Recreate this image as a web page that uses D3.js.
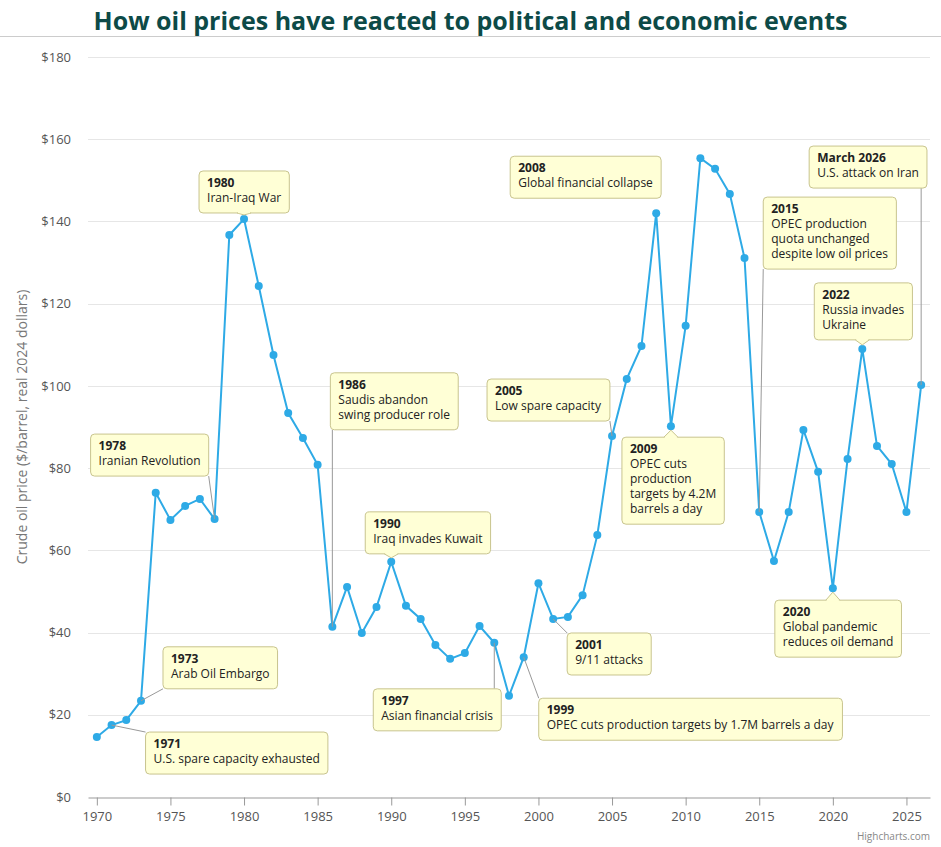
<!DOCTYPE html>
<html><head><meta charset="utf-8">
<script src="https://cdn.jsdelivr.net/npm/d3@7"></script>
<style>
body{margin:0;background:#fff;font-family:"Open Sans","Noto Sans",sans-serif;}
</style></head>
<body><div id="chart"></div>
<script>
const years = d3.range(1970, 2027);
const prices = [14.6, 17.5, 18.7, 23.4, 74, 67.4, 70.8, 72.5, 67.6, 136.7,
    140.6, 124.3, 107.5, 93.4, 87.3, 80.8, 41.4, 51.1, 39.9, 46.2,
    57.2, 46.5, 43.3, 37, 33.6, 35, 41.6, 37.5, 24.6, 34,
    52, 43.3, 43.8, 49.1, 63.7, 87.8, 101.7, 109.7, 142, 90.2,
    114.6, 155.4, 152.8, 146.7, 131.1, 69.3, 57.4, 69.3, 89.3, 79.1,
    50.8, 82.2, 109, 85.4, 81, 69.3, 100.2];
const yTicks = [0, 20, 40, 60, 80, 100, 120, 140, 160, 180];
const xTicks = [1970, 1975, 1980, 1985, 1990, 1995, 2000, 2005, 2010, 2015, 2020, 2025];

const noteYears = [1971, 1973, 1978, 1980, 1986, 1990, 1997, 1999, 2001, 2005, 2008, 2009, 2015, 2020, 2022, 2026];
const noteTitles = ["1971", "1973", "1978", "1980", "1986", "1990", "1997", "1999", "2001", "2005", "2008", "2009", "2015", "2020", "2022", "March 2026"];
const noteTexts = [
    ["U.S. spare capacity exhausted"], ["Arab Oil Embargo"], ["Iranian Revolution"], ["Iran-Iraq War"],
    ["Saudis abandon", "swing producer role"], ["Iraq invades Kuwait"], ["Asian financial crisis"],
    ["OPEC cuts production targets by 1.7M barrels a day"], ["9/11 attacks"], ["Low spare capacity"],
    ["Global financial collapse"], ["OPEC cuts", "production", "targets by 4.2M", "barrels a day"],
    ["OPEC production", "quota unchanged", "despite low oil prices"], ["Global pandemic", "reduces oil demand"],
    ["Russia invades", "Ukraine"], ["U.S. attack on Iran"]];
// box offsets from the point (layout), and connector type
const noteLayout = [[34, 7, "line"], [22, -54, "line"], [-124, -85, "line"], [-45, -48, "callout"],
    [-2, -254, "line"], [-26, -50, "callout"], [-121, 46, "line"], [15, 41, "line"], [14, 14, "line"],
    [-125, -57, "line"], [-146, -57, "none"], [-49, 11, "callout"], [4, -315, "line"], [-58, 12, "callout"],
    [-48, -66, "callout"], [-112, -239, "line"]];

const w = 941, h = 847;
const svg = d3.select("#chart").append("svg").attr("width", w).attr("height", h);

svg.append("text").attr("x", w / 2).attr("y", 30).attr("text-anchor", "middle")
    .attr("font-size", 25).attr("font-weight", "bold").attr("fill", "#0d4a47")
    .text("How oil prices have reacted to political and economic events");
svg.append("line").attr("x1", 0).attr("x2", w).attr("y1", 36.5).attr("y2", 36.5).attr("stroke", "#ccc");

const xScale = d3.scaleLinear().domain([1969.4, 2026.6]).range([88, 930]);
const yScale = d3.scaleLinear().domain([0, 180]).range([797, 57]);

svg.append("g").selectAll("line").data(yTicks.slice(1)).enter().append("line")
    .attr("x1", 88).attr("x2", 930)
    .attr("y1", d => Math.round(yScale(d)) + 0.5).attr("y2", d => Math.round(yScale(d)) + 0.5)
    .attr("stroke", "#e6e6e6");

const yAxis = svg.append("g").attr("transform", "translate(88,0)")
    .call(d3.axisLeft(yScale).tickValues(yTicks).tickFormat(d => "$" + d).tickSize(0).tickPadding(17));
yAxis.select(".domain").remove();
yAxis.selectAll("text").attr("font-size", 13).attr("fill", "#555").attr("font-family", "Open Sans");

const xAxis = svg.append("g").attr("transform", "translate(0,797.5)")
    .call(d3.axisBottom(xScale).tickValues(xTicks).tickFormat(d3.format("d")).tickSize(8).tickSizeOuter(0).tickPadding(6));
xAxis.select(".domain").attr("stroke", "#999");
xAxis.selectAll(".tick line").attr("stroke", "#999");
xAxis.selectAll("text").attr("font-size", 13).attr("fill", "#555").attr("font-family", "Open Sans");

svg.append("text").attr("transform", "translate(27,427) rotate(-90)").attr("text-anchor", "middle")
    .attr("font-size", 14).attr("fill", "#777").text("Crude oil price ($/barrel, real 2024 dollars)");

svg.append("text").attr("x", 930).attr("y", 840).attr("text-anchor", "end")
    .attr("font-size", 10).attr("fill", "#888").text("Highcharts.com");

const lineGen = d3.line().x((d, i) => xScale(years[i])).y(d => yScale(d));
svg.append("path").datum(prices).attr("d", lineGen).attr("fill", "none")
    .attr("stroke", "#2eaae6").attr("stroke-width", 2);
svg.append("g").selectAll("circle").data(prices).enter().append("circle")
    .attr("cx", (d, i) => xScale(years[i])).attr("cy", d => yScale(d)).attr("r", 4).attr("fill", "#2eaae6");

// annotations
const notes = svg.append("g");
noteYears.forEach((yr, i) => {
    const px = xScale(yr), py = yScale(prices[years.indexOf(yr)]);
    const [dx, dy, type] = noteLayout[i];
    const bx = px + dx, by = py + dy;
    const g = notes.append("g");
    const txt = g.append("text").attr("font-size", 12).attr("fill", "#222");
    txt.append("tspan").attr("x", bx + 8).attr("y", by + 16).attr("font-weight", "bold").text(noteTitles[i]);
    noteTexts[i].forEach((t, j) => txt.append("tspan").attr("x", bx + 8).attr("y", by + 31 + j * 15).text(t));
    const bw = txt.node().getBBox().width + 16;
    const bh = 12 + (noteTexts[i].length + 1) * 15;
    if (type === "line") {
        const cx = Math.max(bx, Math.min(px, bx + bw)), cy = Math.max(by, Math.min(py, by + bh));
        g.insert("line", "text").attr("x1", px).attr("y1", py).attr("x2", cx).attr("y2", cy)
            .attr("stroke", "#999").attr("stroke-width", 1);
    }
    g.insert("rect", "text").attr("x", bx).attr("y", by).attr("width", bw).attr("height", bh)
        .attr("rx", 4).attr("fill", "#ffffd6").attr("stroke", "#c8c48e");
    if (type === "callout") {
        const up = py < by;
        const ey = up ? by : by + bh;
        const tip = up ? py + 4 : py - 4;
        g.insert("path", "text").attr("d", `M${px - 7},${ey} L${px},${tip} L${px + 7},${ey}`)
            .attr("fill", "#ffffd6").attr("stroke", "#c8c48e");
        g.insert("line", "text").attr("x1", px - 6).attr("x2", px + 6).attr("y1", up ? ey + 0.8 : ey - 0.8).attr("y2", up ? ey + 0.8 : ey - 0.8)
            .attr("stroke", "#ffffd6").attr("stroke-width", 2);
    }
});
</script></body></html>
